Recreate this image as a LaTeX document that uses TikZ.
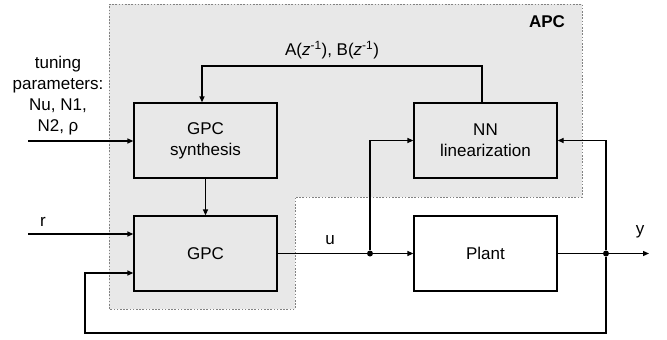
\documentclass[tikz,border=0pt]{standalone}
\usepackage{fontspec}
\setmainfont{Liberation Sans}
\usetikzlibrary{arrows.meta,calc}
\definecolor{apcgray}{RGB}{232,232,232}
\definecolor{dashgray}{RGB}{130,130,130}
\begin{document}
\begin{tikzpicture}[x=1pt,y=-1pt,
  font=\fontsize{17}{21}\selectfont,
  blk/.style={draw=black,line width=1.3pt,minimum width=143pt,minimum height=75pt,inner sep=0pt,align=center},
  conn/.style={line width=1.3pt},
  arr/.style={conn,-{Triangle[length=6pt,width=5pt]}},
  dotnode/.style={circle,fill=black,inner sep=0pt,minimum size=6pt},
  lbl/.style={inner sep=0pt,align=center}]
\useasboundingbox (0,0) rectangle (667,340);
\fill[white] (0,0) rectangle (667,340);
% APC region
\draw[fill=apcgray,draw=dashgray,line width=0.9pt,dash pattern=on 1.6pt off 1.6pt]
  (109,4) -- (582,4) -- (582,197) -- (295,197) -- (295,309) -- (109,309) -- cycle;
\node[lbl,font=\fontsize{17}{21}\selectfont\bfseries] (apc) at (547,22) {APC};
% blocks
\node[blk,fill=apcgray] (syn) at (205.5,140.5) {GPC\\synthesis};
\node[blk,fill=apcgray] (gpc) at (205.5,253.5) {GPC};
\node[blk,fill=apcgray] (nn) at (485.5,140.5) {NN\\linearization};
\node[blk,fill=white] (plant) at (485.5,253.5) {Plant};
% coordinates
\coordinate (tp) at (28,141);
\coordinate (rin) at (28,234);
\node[dotnode] (j1) at (370,253.5) {};
\node[dotnode] (j2) at (606,253.5) {};
\coordinate (yout) at (649,253.5);
\coordinate (fbl) at (85,333);
\coordinate (fbr) at (606,333);
\coordinate (top) at (482,66);
\coordinate (topl) at (202,66);
% labels
\node[lbl] (tune) at (58,96) {tuning\\parameters:\\Nu, N1,\\N2, ρ};
\node[lbl] (rl) at (43,222) {r};
\node[lbl] (ul) at (330,240) {u};
\node[lbl] (yl) at (640,232) {y};
\node[lbl] (ab) at (332,50) {A(\textit{z}\textsuperscript{-1}), B(\textit{z}\textsuperscript{-1})};
% connectors
\draw[arr] (tp) -- (tp -| syn.west);
\draw[arr] (rin) -- (rin -| gpc.west);
\draw[arr] (syn.south) -- (gpc.north);
\draw[conn] (gpc.east) -- (j1);
\draw[arr] (j1) -- (plant.west);
\draw[arr] (j1) -- (j1 |- nn.west) -- (nn.west);
\draw[conn] (plant.east) -- (j2);
\draw[arr] (j2) -- (yout);
\draw[arr] (j2) -- (j2 |- nn.east) -- (nn.east);
\draw[arr] (j2) -- (fbr) -- (fbl) -- (85,273) -- (gpc.west |- 0,273);
\draw[arr] (top |- nn.north) -- (top) -- (topl) -- (topl |- syn.north);
\end{tikzpicture}
\end{document}
